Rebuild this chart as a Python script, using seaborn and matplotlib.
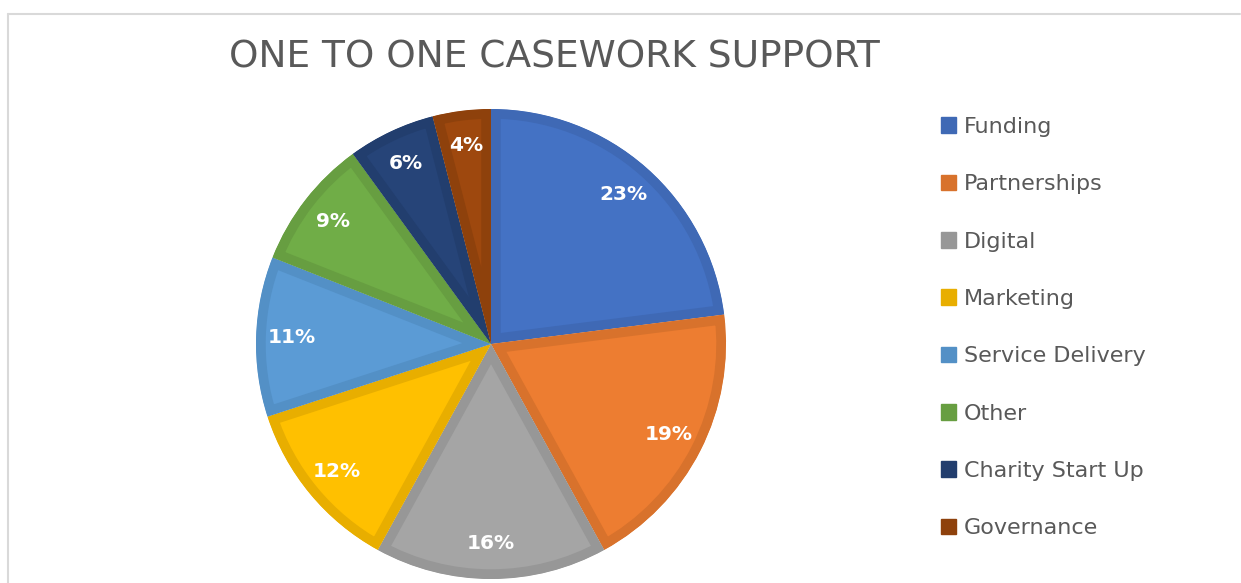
import matplotlib
matplotlib.use("Agg")
import matplotlib.pyplot as plt
import seaborn as sns
from matplotlib.patches import Patch
from matplotlib.lines import Line2D

# data
categories = ["Funding", "Partnerships", "Digital", "Marketing",
              "Service Delivery", "Other", "Charity Start Up", "Governance"]
shares = [23, 19, 16, 12, 11, 9, 6, 4]

fill_colors = ["#4472C4", "#ED7D31", "#A5A5A5", "#FFC000",
               "#5B9BD5", "#70AD47", "#264478", "#9E480E"]
edge_colors = ["#3F69B5", "#D8722C", "#979797", "#E8AE00",
               "#5390C6", "#679E41", "#223E6E", "#8E410C"]

sns.set_theme(style="white")
plt.rcParams['font.family'] = ['DejaVu Sans']
text_grey = "#595959"

W, H = 1241, 583
fig = plt.figure(figsize=(W / 100, H / 100), dpi=100)

# pie axes: centre (491, 344) px, radius 235 px
R = 235
cx, cy = 491, 344
span = 1.05
side = 2 * span * R
ax = fig.add_axes([(cx - side / 2) / W, (H - cy - side / 2) / H, side / W, side / H])

palette = sns.color_palette(fill_colors)
wedges, texts, autotexts = ax.pie(
    shares, colors=palette, startangle=90, counterclock=False,
    autopct='%1.0f%%', pctdistance=0.85, radius=1, frame=True,
    wedgeprops=dict(linewidth=14, joinstyle='miter'),
    textprops=dict(color="white", fontsize=14.5, fontweight="bold"))
ax.set_xlim(-span, span)
ax.set_ylim(-span, span)
ax.set_aspect('equal')
ax.axis('off')

# darker inner border: stroke clipped to the wedge itself
for w, ec in zip(wedges, edge_colors):
    w.set_edgecolor(ec)
    w.set_clip_on(True)
    w.set_clip_path(w.get_path(), w.get_transform())

fig.text(554 / W, 1 - 57 / H, "ONE TO ONE CASEWORK SUPPORT",
         ha="center", va="center", fontsize=27, color=text_grey)

handles = [Patch(facecolor=c, edgecolor=c) for c in edge_colors]
leg = fig.legend(handles, categories, loc="upper left",
                 bbox_to_anchor=(932 / W, 1 - 108 / H),
                 frameon=False, fontsize=16, labelcolor=text_grey,
                 handlelength=0.7, handleheight=0.7, handletextpad=0.35,
                 labelspacing=1.68, borderaxespad=0)

# chart frame (top and left edges visible in the screenshot)
frame_c = "#D9D9D9"
fig.add_artist(Line2D([8 / W, 1240 / W], [1 - 13.5 / H, 1 - 13.5 / H],
                      color=frame_c, linewidth=1.5, transform=fig.transFigure))
fig.add_artist(Line2D([8 / W, 8 / W], [0, 1 - 13.5 / H],
                      color=frame_c, linewidth=1.5, transform=fig.transFigure))

fig.savefig("out.png", dpi=100, facecolor="white")
